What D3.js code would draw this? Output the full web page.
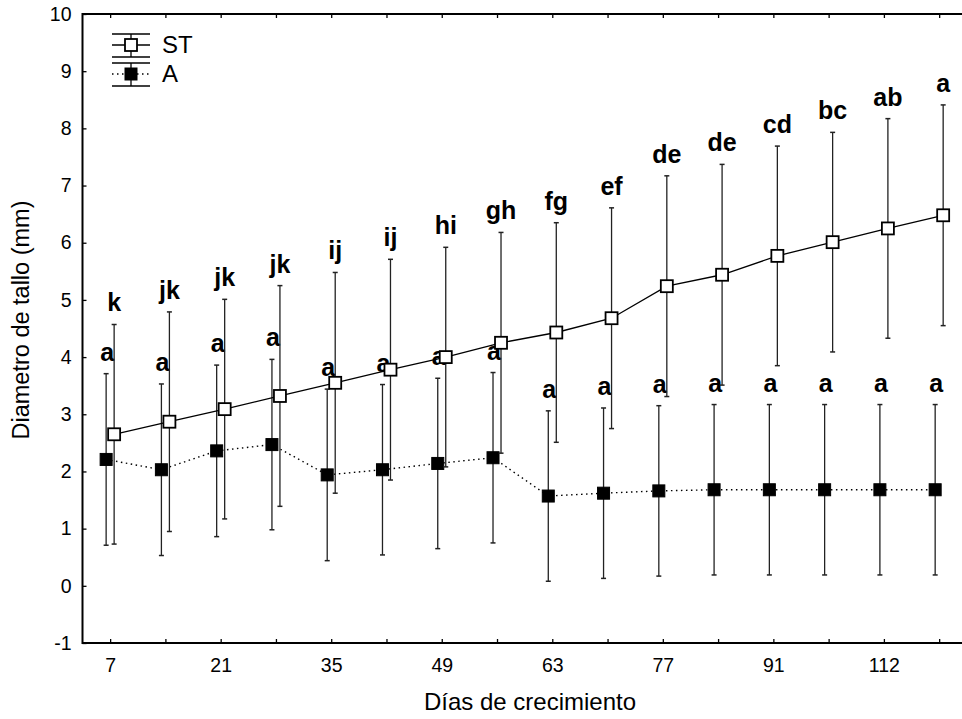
<!DOCTYPE html>
<html>
<head>
<meta charset="utf-8">
<script src="https://cdn.jsdelivr.net/npm/d3@7/dist/d3.min.js"></script>
<style>
  html, body { margin: 0; padding: 0; background: #fff; }
  svg { display: block; font-family: Arial, "Liberation Sans", sans-serif; }
</style>
</head>
<body>
<svg id="chart" width="962" height="719"></svg>
<script>
// ---- data ----
const categories = ["7","14","21","28","35","42","49","56","63","70","77","84","91","105","112","119"];
const tickLabels = ["7","","21","","35","","49","","63","","77","","91","","112",""];
const yTicks = [-1,0,1,2,3,4,5,6,7,8,9,10];

const stMean = [2.65,2.87,3.09,3.32,3.55,3.78,4.00,4.25,4.43,4.68,5.24,5.44,5.77,6.01,6.25,6.48];
const stErr  = [1.92,1.92,1.92,1.93,1.93,1.93,1.92,1.93,1.92,1.93,1.93,1.93,1.92,1.92,1.92,1.93];
const stLetters = ["k","jk","jk","jk","ij","ij","hi","gh","fg","ef","de","de","cd","bc","ab","a"];

const aMean = [2.21,2.03,2.36,2.47,1.94,2.03,2.14,2.24,1.57,1.62,1.66,1.68,1.68,1.68,1.68,1.68];
const aErr  = [1.50,1.50,1.50,1.49,1.50,1.49,1.49,1.49,1.49,1.49,1.49,1.49,1.49,1.49,1.49,1.49];
const aLetters = ["a","a","a","a","a","a","a","a","a","a","a","a","a","a","a","a"];

const seriesNames = ["ST","A"];

// ---- layout ----
const svg = d3.select("#chart");
const pLeft = 82.5, pTop = 14, pBottom = 643, pRight = 966.8;
const FONT = "Arial, 'Liberation Sans', sans-serif";

const x = d3.scalePoint().domain(categories).range([pLeft, pRight]).padding(0.5);
const y = d3.scaleLinear().domain([-1, 10]).range([pBottom, pTop]);

const off = 4;           // horizontal dodge between series
const cap = 2.5;         // half cap width
const sq = 12;           // marker size

// ---- axes ----
const xAxis = d3.axisBottom(x).tickSize(-4).tickPadding(15)
  .tickFormat((d, i) => tickLabels[i]);
const gx = svg.append("g").attr("transform", `translate(0,${pBottom})`).call(xAxis);
gx.attr("font-size", 19.5).attr("font-family", FONT);
gx.select(".domain").remove();
gx.selectAll("text").attr("fill", "#000");
gx.selectAll("line").attr("stroke", "#000").attr("stroke-width", 1.3);

const xTopAxis = d3.axisTop(x).tickSize(-4).tickFormat("");
const gxt = svg.append("g").attr("transform", `translate(0,${pTop})`).call(xTopAxis);
gxt.select(".domain").remove();
gxt.selectAll("line").attr("stroke", "#000").attr("stroke-width", 1.3);

const yAxis = d3.axisLeft(y).tickValues(yTicks).tickSize(-4).tickPadding(11)
  .tickFormat(d => String(d));
const gy = svg.append("g").attr("transform", `translate(${pLeft},0)`).call(yAxis);
gy.attr("font-size", 19.5).attr("font-family", FONT);
gy.select(".domain").remove();
gy.selectAll("text").attr("fill", "#000");
gy.selectAll("line").attr("stroke", "#000").attr("stroke-width", 1.3);

// frame
svg.append("rect").attr("x", pLeft).attr("y", pTop)
  .attr("width", pRight - pLeft).attr("height", pBottom - pTop)
  .attr("fill", "none").attr("stroke", "#000").attr("stroke-width", 2);

// axis titles
svg.append("text").attr("x", 530).attr("y", 710).attr("text-anchor", "middle")
  .attr("font-size", 24).text("Días de crecimiento");
svg.append("text").attr("transform", "translate(29,320) rotate(-90)")
  .attr("text-anchor", "middle").attr("font-size", 23.5).text("Diametro de tallo (mm)");

// ---- series ----
function drawSeries(mean, err, letters, dx, filled, dashed, ldx) {
  const g = svg.append("g");
  const line = d3.line().x((d, i) => x(categories[i]) + dx).y(d => y(d));
  g.append("path").datum(mean).attr("d", line).attr("fill", "none")
    .attr("stroke", "#000").attr("stroke-width", dashed ? 1.4 : 1.3)
    .attr("stroke-dasharray", dashed ? "1.5,3.5" : null);

  const eb = g.selectAll(".eb").data(mean).join("g");
  eb.append("line")
    .attr("x1", (d, i) => x(categories[i]) + dx).attr("x2", (d, i) => x(categories[i]) + dx)
    .attr("y1", (d, i) => y(d + err[i])).attr("y2", (d, i) => y(d - err[i]))
    .attr("stroke", "#222").attr("stroke-width", 1.3);
  [1, -1].forEach(s => {
    eb.append("line")
      .attr("x1", (d, i) => x(categories[i]) + dx - cap).attr("x2", (d, i) => x(categories[i]) + dx + cap)
      .attr("y1", (d, i) => y(d + s * err[i])).attr("y2", (d, i) => y(d + s * err[i]))
      .attr("stroke", "#222").attr("stroke-width", 1.5);
  });
  g.selectAll(".m").data(mean).join("rect")
    .attr("x", (d, i) => x(categories[i]) + dx - sq / 2)
    .attr("y", d => y(d) - sq / 2)
    .attr("width", sq).attr("height", sq)
    .attr("fill", filled ? "#000" : "#fff")
    .attr("stroke", "#000").attr("stroke-width", filled ? 1 : 1.8);

  g.selectAll(".lbl").data(mean).join("text")
    .attr("x", (d, i) => x(categories[i]) + ldx)
    .attr("y", (d, i) => y(d + err[i]) - 13)
    .attr("text-anchor", "middle").attr("font-weight", "bold").attr("font-size", 25)
    .text((d, i) => letters[i]);
}

drawSeries(aMean, aErr, aLetters, -off, true, true, -3);
drawSeries(stMean, stErr, stLetters, off, false, false, 4);

// ---- legend ----
const lg = svg.append("g");
const lx = 131, lw = 19;
const entries = [
  { name: seriesNames[0], cy: 45, t: 34, b: 57, filled: false, dashed: false, ty: 53 },
  { name: seriesNames[1], cy: 74, t: 63, b: 86, filled: true, dashed: true, ty: 82 }
];
entries.forEach(e => {
  lg.append("line").attr("x1", lx - lw).attr("x2", lx + lw).attr("y1", e.cy).attr("y2", e.cy)
    .attr("stroke", "#000").attr("stroke-width", 1.3).attr("stroke-dasharray", e.dashed ? "1.5,3.5" : null);
  [e.t, e.b].forEach(yy => lg.append("line").attr("x1", lx - lw).attr("x2", lx + lw)
    .attr("y1", yy).attr("y2", yy).attr("stroke", "#000").attr("stroke-width", 1.5));
  lg.append("line").attr("x1", lx).attr("x2", lx).attr("y1", e.t).attr("y2", e.b)
    .attr("stroke", "#000").attr("stroke-width", 1.3);
  lg.append("rect").attr("x", lx - sq / 2).attr("y", e.cy - sq / 2).attr("width", sq).attr("height", sq)
    .attr("fill", e.filled ? "#000" : "#fff").attr("stroke", "#000").attr("stroke-width", e.filled ? 1 : 1.8);
  lg.append("text").attr("x", 162).attr("y", e.ty).attr("font-size", 24).text(e.name);
});
</script>
</body>
</html>
